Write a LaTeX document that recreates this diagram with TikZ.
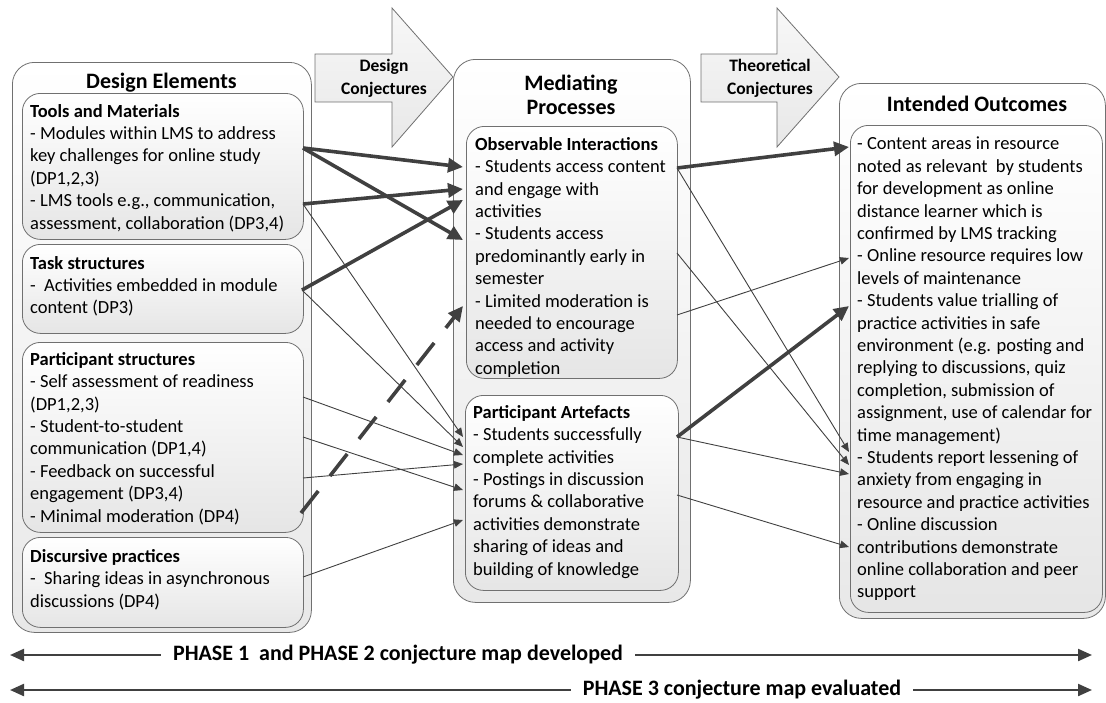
\documentclass[tikz,border=0pt]{standalone}
\usepackage{fontspec}
\setmainfont{Carlito}
\usetikzlibrary{arrows.meta}
\usetikzlibrary{positioning}

\definecolor{linegray}{HTML}{404040}
\definecolor{boxgray}{HTML}{707070}

\begin{document}
\begin{tikzpicture}[x=1pt,y=-1pt,
  outerbox/.style={draw=boxgray, line width=0.8pt, rounded corners=22pt, top color=white, bottom color=black!9, anchor=north west, inner sep=0pt},
  innerbox/.style={draw=boxgray, line width=0.8pt, rounded corners=18pt, top color=white, bottom color=black!10, anchor=north west, inner sep=0pt},
  boxtext/.style={anchor=north west, align=left, inner sep=0pt, font=\fontsize{18.5}{22.4}\selectfont},
  titletext/.style={align=center, inner sep=0pt, font=\fontsize{22}{24}\selectfont\bfseries},
  arrowtext/.style={align=center, inner sep=0pt, font=\fontsize{17.5}{23}\selectfont\bfseries},
  bigarrow/.style={draw=boxgray, line width=0.8pt, top color=black!3, bottom color=black!9},
  strongarrow/.style={draw=linegray, line width=3.6pt, -{Triangle[length=15pt,width=14pt]}},
  weakarrow/.style={draw=linegray, line width=0.9pt, -{Triangle[length=9pt,width=7.5pt]}},
  phasearrow/.style={draw=linegray, line width=2.2pt, {Triangle[length=14pt,width=12pt]}-{Triangle[length=14pt,width=12pt]}},
  phasetext/.style={fill=white, inner xsep=12pt, inner ysep=2pt, font=\fontsize{22}{24}\selectfont\bfseries}]
\useasboundingbox (0,0) rectangle (1106,702);

% outer columns
\node[outerbox, minimum width=299pt, minimum height=570pt] (design) at (12,62) {};
\node[outerbox, minimum width=237pt, minimum height=543pt] (mediate) at (453,59) {};
\node[outerbox, minimum width=266pt, minimum height=535pt] (intended) at (839,83) {};

\node[titletext] (designtitle) at (161.5,83) {Design Elements};
\node[titletext] (mediatetitle) at (571,95) {Mediating\\Processes};
\node[titletext] (intendedtitle) at (977,104) {Intended Outcomes};

% conjecture arrows
\draw[bigarrow] (315,54) -- (392,54) -- (392,8) -- (453,77) -- (392,147) -- (392,102) -- (315,102) -- cycle;
\node[arrowtext] (designconj) at (384,78.5) {Design\\Conjectures};
\draw[bigarrow] (701,54) -- (777,54) -- (777,8) -- (839,77) -- (777,147) -- (777,102) -- (701,102) -- cycle;
\node[arrowtext] (theoconj) at (770,78) {Theoretical\\Conjectures};

% design elements
\node[innerbox, minimum width=281pt, minimum height=146pt] (tools) at (22,93) {};
\node[innerbox, minimum width=281pt, minimum height=89pt] (tasks) at (22,244) {};
\node[innerbox, minimum width=281pt, minimum height=190pt] (partstruct) at (22,342) {};
\node[innerbox, minimum width=281pt, minimum height=90pt] (discourse) at (22,537) {};

\node[boxtext] (toolstext) at (30,104) {\textbf{Tools and Materials}\\
- Modules within LMS to address\\
key challenges for online study\\
(DP1,2,3)\\
- LMS tools e.g., communication,\\
assessment, collaboration (DP3,4)};
\node[boxtext] (taskstext) at (30,256) {\textbf{Task structures}\\
-\ \ Activities embedded in module\\
content (DP3)};
\node[boxtext] (partstructtext) at (30,352) {\textbf{Participant structures}\\
- Self assessment of readiness\\
(DP1,2,3)\\
- Student-to-student\\
communication (DP1,4)\\
- Feedback on successful\\
engagement (DP3,4)\\
- Minimal moderation (DP4)};
\node[boxtext] (discoursetext) at (30,549) {\textbf{Discursive practices}\\
-\ \ Sharing ideas in asynchronous\\
discussions (DP4)};

% mediating processes
\node[innerbox, minimum width=211pt, minimum height=252pt] (observe) at (466,126) {};
\node[innerbox, minimum width=213pt, minimum height=195pt] (artefacts) at (465,395) {};

\node[boxtext] (observetext) at (475,137) {\textbf{Observable Interactions}\\
- Students access content\\
and engage with\\
activities\\
- Students access\\
predominantly early in\\
semester\\
- Limited moderation is\\
needed to encourage\\
access and activity\\
completion};
\node[boxtext] (artefactstext) at (473,405) {\textbf{Participant Artefacts}\\
- Students successfully\\
complete activities\\
- Postings in discussion\\
forums \& collaborative\\
activities demonstrate\\
sharing of ideas and\\
building of knowledge};

% intended outcomes
\node[innerbox, minimum width=252pt, minimum height=487pt] (outcomes) at (850,125) {};
\node[boxtext] (outcomestext) at (857,137) {- Content areas in resource\\
noted as relevant \ by students\\
for development as online\\
distance learner which is\\
confirmed by LMS tracking\\
- Online resource requires low\\
levels of maintenance\\
- Students value trialling of\\
practice activities in safe\\
environment (e.g. posting and\\
replying to discussions, quiz\\
completion, submission of\\
assignment, use of calendar for\\
time management)\\
- Students report lessening of\\
anxiety from engaging in\\
resource and practice activities\\
- Online discussion\\
contributions demonstrate\\
online collaboration and peer\\
support};

% ports
\coordinate (toolsA) at (303,148);
\coordinate (toolsB) at (303,204);
\coordinate (tasksA) at (302,290);
\coordinate (partA) at (303,397);
\coordinate (partB) at (303,437);
\coordinate (partC) at (303,478);
\coordinate (partD) at (301,513);
\coordinate (discA) at (303,577);
\coordinate (obsA) at (463,167);
\coordinate (obsB) at (463,189);
\coordinate (obsC) at (463,200);
\coordinate (obsD) at (463,240);
\coordinate (obsE) at (463,306);
\coordinate (artA) at (463,437);
\coordinate (artB) at (463,447);
\coordinate (artC) at (463,455);
\coordinate (artD) at (463,464);
\coordinate (artE) at (463,490);
\coordinate (artF) at (463,520);
\coordinate (obsR1) at (677,168);
\coordinate (obsR2) at (677,253);
\coordinate (obsR3) at (677,315);
\coordinate (artR1) at (677,437);
\coordinate (artR2) at (677,495);
\coordinate (outA) at (849,147);
\coordinate (outB) at (849,258);
\coordinate (outC) at (849,306);
\coordinate (outD) at (849,452);
\coordinate (outE) at (849,465);
\coordinate (outF) at (849,474);
\coordinate (outG) at (849,547);

% design conjectures
\draw[weakarrow] (toolsB) -- (artA);
\draw[weakarrow] (tasksA) -- (artB);
\draw[weakarrow] (partA) -- (artC);
\draw[weakarrow] (partC) -- (artD);
\draw[weakarrow] (partB) -- (artE);
\draw[weakarrow] (discA) -- (artF);
\draw[strongarrow] (toolsA) -- (obsA);
\draw[strongarrow] (toolsA) -- (obsD);
\draw[strongarrow] (toolsB) -- (obsB);
\draw[strongarrow] (tasksA) -- (obsC);
\draw[strongarrow, dash pattern=on 28pt off 19pt] (partD) -- (obsE);

% theoretical conjectures
\draw[weakarrow] (obsR1) -- (outD);
\draw[weakarrow] (obsR2) -- (outE);
\draw[weakarrow] (obsR3) -- (outB);
\draw[weakarrow] (artR1) -- (outF);
\draw[weakarrow] (artR2) -- (outG);
\draw[strongarrow] (obsR1) -- (outA);
\draw[strongarrow] (artR1) -- (outC);

% phases
\coordinate (phaseAl) at (10,655);
\coordinate (phaseAr) at (1092,655);
\coordinate (phaseBl) at (10,690);
\coordinate (phaseBr) at (1092,690);
\draw[phasearrow] (phaseAl) -- (phaseAr);
\draw[phasearrow] (phaseBl) -- (phaseBr);
\node[phasetext] (phaseA) at (398,655) {PHASE 1 \ and PHASE 2 conjecture map developed};
\node[phasetext] (phaseB) at (742,690) {PHASE 3 conjecture map evaluated};
\end{tikzpicture}
\end{document}
